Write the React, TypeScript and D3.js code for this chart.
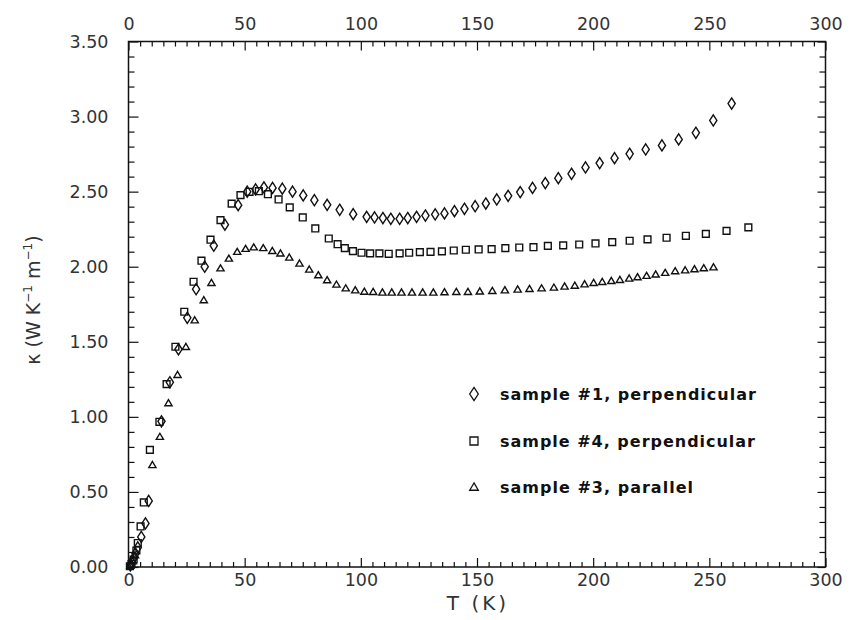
import React, { useEffect, useRef } from 'react';
import * as d3 from 'd3';

// sample #1, perpendicular (diamonds)
const s1T = [0.8, 1.5, 2.3, 3.0, 4.0, 5.5, 7.3, 8.7, 14.2, 17.8, 21.5, 25.3, 29.1, 32.8, 36.7, 41.5, 47.2, 51.1, 54.7, 58.3, 62.0, 66.2, 70.6, 75.2, 80.0, 85.5, 90.9, 96.7, 102.5, 105.9, 109.5, 112.9, 116.7, 120.2, 124.0, 127.8, 132.0, 136.0, 140.3, 144.6, 149.2, 153.8, 158.5, 163.4, 168.6, 173.9, 179.4, 185.0, 190.7, 196.7, 202.8, 209.2, 215.7, 222.6, 229.6, 236.8, 244.2, 251.7, 259.6];
const s1K = [0.01, 0.03, 0.06, 0.09, 0.13, 0.2, 0.29, 0.44, 0.97, 1.23, 1.45, 1.66, 1.85, 2.0, 2.14, 2.28, 2.41, 2.5, 2.515, 2.528, 2.525, 2.52, 2.5, 2.475, 2.443, 2.412, 2.379, 2.35, 2.332, 2.328, 2.324, 2.319, 2.319, 2.324, 2.332, 2.341, 2.348, 2.355, 2.37, 2.386, 2.403, 2.421, 2.448, 2.472, 2.497, 2.525, 2.557, 2.59, 2.619, 2.661, 2.69, 2.723, 2.752, 2.781, 2.808, 2.848, 2.892, 2.974, 3.087];

// sample #4, perpendicular (squares)
const s4T = [0.6, 1.3, 2.2, 3.4, 4.0, 5.2, 6.6, 9.2, 13.3, 16.4, 20.2, 24.0, 28.0, 31.4, 35.3, 39.6, 44.4, 48.2, 52.1, 56.1, 60.0, 64.6, 69.4, 75.0, 80.4, 86.2, 90.0, 93.1, 96.6, 100.3, 104.0, 108.0, 112.0, 116.7, 120.8, 125.4, 130.0, 134.9, 140.0, 145.2, 150.7, 156.3, 162.2, 168.2, 174.3, 180.5, 187.1, 194.0, 201.0, 208.2, 215.7, 223.4, 231.6, 239.9, 248.5, 257.4, 266.8];
const s4K = [0.005, 0.02, 0.05, 0.11, 0.16, 0.27, 0.43, 0.78, 0.967, 1.218, 1.467, 1.7, 1.9, 2.04, 2.18, 2.31, 2.42, 2.477, 2.499, 2.503, 2.483, 2.448, 2.395, 2.328, 2.255, 2.188, 2.15, 2.124, 2.104, 2.093, 2.089, 2.089, 2.086, 2.089, 2.093, 2.097, 2.099, 2.102, 2.108, 2.113, 2.115, 2.117, 2.124, 2.128, 2.13, 2.139, 2.142, 2.148, 2.155, 2.164, 2.173, 2.182, 2.193, 2.206, 2.219, 2.239, 2.262];

// sample #3, parallel (triangles)
const s3T = [0.8, 1.8, 2.8, 10.3, 13.5, 17.2, 21.1, 24.7, 28.5, 32.4, 35.7, 39.6, 43.2, 46.8, 50.4, 53.9, 58.0, 61.9, 65.4, 69.2, 73.6, 77.8, 81.7, 85.5, 89.5, 93.5, 97.6, 101.5, 105.3, 109.3, 113.3, 117.5, 122.0, 126.6, 131.2, 136.0, 141.1, 146.1, 151.2, 156.6, 162.0, 167.5, 172.6, 177.8, 183.1, 187.7, 192.1, 196.3, 200.2, 203.9, 207.8, 211.5, 215.5, 219.1, 223.0, 226.9, 231.0, 235.3, 239.6, 243.6, 247.6, 251.8];
const s3K = [0.01, 0.04, 0.08, 0.68, 0.868, 1.092, 1.28, 1.467, 1.644, 1.778, 1.893, 1.99, 2.055, 2.1, 2.12, 2.13, 2.125, 2.106, 2.089, 2.062, 2.022, 1.982, 1.944, 1.911, 1.882, 1.857, 1.844, 1.835, 1.833, 1.829, 1.829, 1.829, 1.829, 1.829, 1.829, 1.831, 1.833, 1.833, 1.836, 1.84, 1.844, 1.849, 1.853, 1.857, 1.862, 1.869, 1.875, 1.884, 1.893, 1.9, 1.906, 1.913, 1.922, 1.931, 1.94, 1.949, 1.96, 1.971, 1.977, 1.984, 1.991, 1.997];

const legendLabels = ['sample #1, perpendicular', 'sample #4, perpendicular', 'sample #3, parallel'];
const xMajor = [0, 50, 100, 150, 200, 250, 300];
const yMajor = [0, 0.5, 1.0, 1.5, 2.0, 2.5, 3.0, 3.5];

const diamond = (s: number) => `M0,${-s * 1.55}L${s},0L0,${s * 1.55}L${-s},0Z`;
const square = (s: number) => `M${-s},${-s}H${s}V${s}H${-s}Z`;
const triangle = (s: number) => `M0,${-s * 0.95}L${s},${s * 0.75}L${-s},${s * 0.75}Z`;

const App = () => {
  const ref = useRef<SVGSVGElement>(null);

  useEffect(() => {
    const svg = d3.select(ref.current);
    svg.selectAll('*').remove();

    const x = d3.scaleLinear().domain([0, 300]).range([128.5, 825.5]);
    const y = d3.scaleLinear().domain([0, 3.5]).range([567, 41.5]);
    const font = '"DejaVu Sans", sans-serif';
    const ink = '#111';

    const xMinor = d3.range(0, 301, 5).filter(v => v % 50 !== 0);
    const yMinor = d3.range(0, 36, 1).map(v => v / 10).filter(v => Math.round(v * 10) % 5 !== 0);

    const styleAxis = (g: any) => {
      g.select('.domain').remove();
      g.selectAll('line').attr('stroke', ink).attr('stroke-width', 1.2);
      g.selectAll('text').attr('font-family', font).attr('font-size', 17.5).attr('fill', '#333');
    };

    // bottom
    svg.append('g').attr('transform', 'translate(0,567)')
      .call(d3.axisBottom(x).tickValues(xMajor).tickSizeInner(-9).tickSizeOuter(0).tickPadding(7).tickFormat(d3.format('d')))
      .call(styleAxis);
    svg.append('g').attr('transform', 'translate(0,567)')
      .call(d3.axisBottom(x).tickValues(xMinor).tickSizeInner(-5).tickSizeOuter(0).tickFormat(() => ''))
      .call(styleAxis);
    // top
    svg.append('g').attr('transform', 'translate(0,41.5)')
      .call(d3.axisTop(x).tickValues(xMajor).tickSizeInner(-9).tickSizeOuter(0).tickPadding(12).tickFormat(d3.format('d')))
      .call(styleAxis);
    svg.append('g').attr('transform', 'translate(0,41.5)')
      .call(d3.axisTop(x).tickValues(xMinor).tickSizeInner(-5).tickSizeOuter(0).tickFormat(() => ''))
      .call(styleAxis);
    // left
    svg.append('g').attr('transform', 'translate(128.5,0)')
      .call(d3.axisLeft(y).tickValues(yMajor).tickSizeInner(-10).tickSizeOuter(0).tickPadding(20).tickFormat(d3.format('.2f')))
      .call(styleAxis);
    svg.append('g').attr('transform', 'translate(128.5,0)')
      .call(d3.axisLeft(y).tickValues(yMinor).tickSizeInner(-6).tickSizeOuter(0).tickFormat(() => ''))
      .call(styleAxis);
    // right
    svg.append('g').attr('transform', 'translate(825.5,0)')
      .call(d3.axisRight(y).tickValues(yMajor).tickSizeInner(-8).tickSizeOuter(0).tickFormat(() => ''))
      .call(styleAxis);
    svg.append('g').attr('transform', 'translate(825.5,0)')
      .call(d3.axisRight(y).tickValues(yMinor).tickSizeInner(-6).tickSizeOuter(0).tickFormat(() => ''))
      .call(styleAxis);

    svg.append('rect')
      .attr('x', x(0)).attr('y', y(3.5))
      .attr('width', x(300) - x(0)).attr('height', y(0) - y(3.5))
      .attr('fill', 'none').attr('stroke', ink).attr('stroke-width', 1.5);

    const series = [
      { t: s1T, k: s1K, path: diamond(3.6) },
      { t: s4T, k: s4K, path: square(3.4) },
      { t: s3T, k: s3K, path: triangle(3.6) },
    ];
    series.forEach(s => {
      svg.append('g').selectAll('path')
        .data(s.t.map((t, i) => [t, s.k[i]]))
        .enter().append('path')
        .attr('d', s.path)
        .attr('transform', d => `translate(${x(d[0])},${y(d[1])})`)
        .attr('fill', 'none').attr('stroke', ink).attr('stroke-width', 1.4);
    });

    // legend
    const legendPaths = [diamond(4.3), square(4), triangle(4.3)];
    const legendY = [394, 441, 487];
    const legendLen = [256, 255, 193];
    legendLabels.forEach((lab, i) => {
      svg.append('path').attr('d', legendPaths[i])
        .attr('transform', `translate(474,${legendY[i]})`)
        .attr('fill', 'none').attr('stroke', ink).attr('stroke-width', 1.3);
      svg.append('text').attr('x', 500).attr('y', legendY[i]).attr('dy', '0.35em')
        .attr('font-family', font).attr('font-size', 16).attr('font-weight', 'bold')
        .attr('fill', ink).attr('textLength', legendLen[i]).attr('lengthAdjust', 'spacing')
        .text(lab);
    });

    // axis titles
    svg.append('text').attr('x', 478).attr('y', 610).attr('text-anchor', 'middle')
      .attr('font-family', font).attr('font-size', 20).attr('fill', '#333')
      .attr('letter-spacing', 3).text('T (K)');

    const yt = svg.append('text')
      .attr('transform', 'translate(40,300) rotate(-90)')
      .attr('text-anchor', 'middle')
      .attr('font-family', font).attr('font-size', 19).attr('fill', '#333');
    yt.append('tspan').text('κ (W K');
    yt.append('tspan').attr('dy', -8).attr('font-size', 12).text('−1');
    yt.append('tspan').attr('dy', 8).text('  m');
    yt.append('tspan').attr('dy', -8).attr('font-size', 12).text('−1');
    yt.append('tspan').attr('dy', 8).text(')');
  }, []);

  return (
    <svg ref={ref} width={851} height={620}
      style={{ position: 'absolute', left: 0, top: 0, background: '#fff' }} />
  );
};

export default App;
